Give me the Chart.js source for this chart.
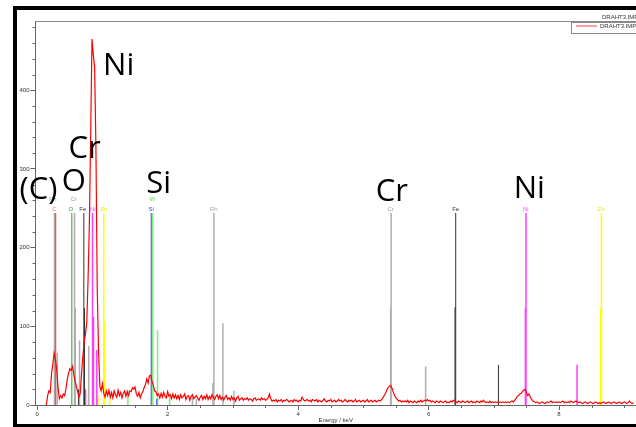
<!DOCTYPE html>
<html>
<head>
<meta charset="utf-8">
<title>DRAHT3.IMP</title>
<script src="https://cdn.jsdelivr.net/npm/chart.js@4.4.1/dist/chart.umd.min.js"></script>
<style>
  html, body { margin: 0; padding: 0; background: #fff; overflow: hidden; }
  #wrap { position: relative; width: 636px; height: 427px; }
  #spectrum { position: absolute; left: 0; top: 0; }
  #frame {
    position: absolute; left: 13px; top: 6px; width: 640px; height: 414px;
    border-top: 4px solid #000; border-left: 4px solid #000; border-bottom: 3px solid #000;
    pointer-events: none;
  }
</style>
</head>
<body>
<div id="wrap">
  <canvas id="spectrum" width="636" height="427"></canvas>
  <div id="frame"></div>
</div>
<script>
// EDX spectrum, channels every 20 eV starting at 0.14 keV
const energyStart = 0.14;
const energyStep = 0.02;
const counts = [
  0, 12, 18, 16, 40, 52, 66, 58, 44, 22, 8, 12, 9, 14, 12, 20, 32, 40, 46, 44, 49, 40, 31, 24, 17,
  10, 15, 40, 62, 80, 90, 105, 160, 230, 345, 465, 445, 430, 330, 150, 70, 24, 18, 27, 15, 10, 18, 12, 19, 10,
  16, 9, 18, 13, 10, 19, 12, 16, 9, 15, 18, 11, 17, 12, 18, 17, 22, 20, 23, 14, 11, 16, 9, 14, 17,
  22, 26, 33, 28, 37, 38, 30, 25, 18, 17, 12, 14, 9, 15, 10, 16, 11, 9, 17, 11, 13, 8, 14, 9, 13,
  8, 12, 7, 13, 9, 11, 14, 7, 11, 12, 6, 11, 13, 8, 10, 12, 9, 6, 10, 12, 7, 11, 8, 13, 7,
  11, 8, 13, 10, 7, 11, 13, 8, 12, 7, 10, 6, 10, 12, 7, 9, 6, 11, 7, 9, 5, 9, 11, 6, 8,
  9, 6, 8, 7, 9, 6, 8, 7, 5, 8, 9, 6, 7, 8, 6, 9, 7, 8, 6, 7, 9, 14, 8, 5, 6,
  5, 7, 4, 6, 5, 7, 4, 6, 5, 7, 6, 4, 5, 6, 4, 7, 5, 6, 4, 6, 5, 10, 7, 5, 6,
  7, 5, 6, 4, 7, 6, 5, 7, 4, 6, 5, 4, 6, 8, 5, 4, 6, 5, 7, 4, 5, 6, 4, 5, 7,
  5, 6, 4, 5, 7, 5, 4, 6, 5, 6, 4, 5, 7, 4, 5, 6, 4, 5, 6, 4, 5, 7, 4, 5, 6,
  4, 5, 6, 4, 5, 6, 5, 7, 9, 12, 15, 19, 22, 24, 25, 21, 16, 12, 9, 7, 5, 6, 4, 5, 4,
  5, 4, 6, 3, 5, 4, 3, 5, 4, 3, 5, 4, 6, 4, 5, 6, 5, 7, 5, 6, 4, 5, 4, 3, 5,
  4, 3, 5, 4, 3, 4, 5, 3, 4, 3, 5, 4, 6, 5, 4, 3, 5, 4, 3, 5, 4, 3, 4, 5, 3,
  4, 5, 3, 4, 3, 5, 4, 3, 5, 4, 6, 4, 3, 4, 3, 5, 3, 4, 3, 4, 3, 4, 3, 4, 3,
  4, 3, 4, 3, 4, 3, 4, 5, 4, 6, 8, 11, 12, 14, 15, 17, 19, 20, 16, 12, 14, 10, 7, 5, 4,
  3, 4, 3, 2, 3, 4, 3, 2, 3, 4, 3, 4, 5, 3, 4, 3, 4, 3, 4, 3, 4, 5, 3, 4, 3,
  4, 3, 5, 4, 3, 4, 5, 4, 3, 4, 3, 2, 3, 4, 3, 2, 3, 4, 3, 2, 3, 4, 3, 2, 3,
  2, 3, 4, 3, 2, 3, 4, 3, 2, 3, 4, 3, 2, 3, 4, 3, 2, 3, 4, 3, 2, 3, 5, 3, 2,
  3
];

// characteristic lines (keV) and their marker heights (counts)
const cEnergy = [0.281];
const cHeight = [244];
const oEnergy = [0.531];
const oHeight = [244];
const crEnergy = [0.572, 0.583, 0.649, 0.791, 5.419, 5.426, 5.955];
const crHeight = [244, 123, 82, 75, 124, 244, 49];
const feEnergy = [0.633, 0.715, 0.725, 6.405, 6.416, 7.071];
const feHeight = [20, 244, 123, 124, 244, 51];
const niEnergy = [0.741, 0.848, 0.863, 0.914, 7.485, 7.494, 8.276];
const niHeight = [20, 244, 112, 70, 124, 244, 51];
const znEnergy = [0.93, 1.021, 1.032, 1.113, 8.635, 8.65];
const znHeight = [12, 244, 106, 10, 124, 244];
const siEnergy = [1.748, 1.834];
const siHeight = [244, 8];
const wEnergy = [1.39, 1.773, 1.845, 2.03];
const wHeight = [19, 244, 95, 10];
const rhEnergy = [0.265, 0.308, 2.38, 2.44, 2.693, 2.709, 2.847, 3.015];
const rhHeight = [244, 66, 12, 8, 28, 244, 104, 18];

// element tags above the marker lines (row 1 = upper row)
const tagNames  = ['Rh', 'C', 'Cr', 'O', 'Fe', 'Ni', 'Zn', 'W', 'Si', 'Rh', 'Cr', 'Fe', 'Ni', 'Zn'];
const tagEnergy = [0.24, 0.265, 0.561, 0.515, 0.70, 0.853, 1.02, 1.764, 1.748, 2.705, 5.42, 6.415, 7.49, 8.645];
const tagRow    = [1, 0, 1, 0, 0, 0, 0, 1, 0, 0, 0, 0, 0, 0];
const tagLevels = [249, 261];

// peak annotations: text, energy of left edge, count at baseline
const noteText   = ['Ni', 'Cr', 'O', '(C)', 'Si', 'Cr', 'Ni'];
const noteEnergy = [1.01, 0.48, 0.378, -0.27, 1.672, 5.19, 7.305];
const noteCount  = [419, 314, 272, 262, 270, 259, 263];

const xMajorTicks = [0, 2, 4, 6, 8];
const yMajorTicks = [0, 100, 200, 300, 400];

const elementColors = {
  C: '#ff5050', O: '#2ca02c', Cr: 'rgba(140,140,140,0.7)', Fe: '#333333', Ni: '#ff3cff',
  Zn: '#ffff00', Si: '#3c3cdc', W: '#78f078', Rh: 'rgba(150,150,150,0.75)'
};
const tagColors = {
  C: '#ff6666', O: '#2ca02c', Cr: '#999999', Fe: '#333333', Ni: '#ff44ff',
  Zn: '#e6e600', Si: '#4444ee', W: '#55dd55', Rh: '#aaaaaa'
};

const spectrumPoints = counts.map((c, i) => ({ x: +(energyStart + i * energyStep).toFixed(2), y: c }));

// vertical stems from zero, separated by gaps
function stems(energies, heights) {
  const pts = [];
  energies.forEach((e, i) => {
    pts.push({ x: e, y: 0 }, { x: e, y: heights[i] }, { x: e, y: null });
  });
  return pts;
}

function markerSet(name, energies, heights, width) {
  return {
    label: name,
    data: stems(energies, heights),
    borderColor: elementColors[name],
    borderWidth: width || 1,
    pointRadius: 0,
    spanGaps: false,
    order: 1
  };
}

const decor = {
  id: 'decor',
  afterDatasetsDraw(chart) {
    const { ctx, scales: { x, y } } = chart;
    ctx.save();
    ctx.font = '6px "Liberation Sans", Arial, sans-serif';
    ctx.textAlign = 'center';
    ctx.textBaseline = 'middle';
    tagNames.forEach((t, i) => {
      ctx.fillStyle = tagColors[t];
      ctx.fillText(t, x.getPixelForValue(tagEnergy[i]), y.getPixelForValue(tagLevels[tagRow[i]]));
    });
    ctx.restore();
  },
  afterDraw(chart) {
    const { ctx, chartArea, scales: { x, y } } = chart;
    ctx.save();
    // top edge of the plot box
    ctx.strokeStyle = '#8a8a8a';
    ctx.lineWidth = 1;
    ctx.beginPath();
    ctx.moveTo(chartArea.left, chartArea.top + 0.5);
    ctx.lineTo(chartArea.right, chartArea.top + 0.5);
    ctx.stroke();

    // minor tick marks
    ctx.strokeStyle = '#666';
    ctx.beginPath();
    for (let v = 0.5; v <= 9; v += 0.5) {
      if (v % 2 === 0) continue;
      const px = Math.round(x.getPixelForValue(v)) + 0.5;
      ctx.moveTo(px, chartArea.bottom);
      ctx.lineTo(px, chartArea.bottom + 3);
    }
    for (let v = 20; v < 488; v += 20) {
      if (v % 100 === 0) continue;
      const py = Math.round(y.getPixelForValue(v)) + 0.5;
      ctx.moveTo(chartArea.left - 3, py);
      ctx.lineTo(chartArea.left, py);
    }
    ctx.stroke();

    // legend box
    const lx = chartArea.right - 65, ly = chartArea.top + 1;
    ctx.fillStyle = '#fff';
    ctx.fillRect(lx, ly, 80, 11);
    ctx.strokeStyle = '#888';
    ctx.strokeRect(lx + 0.5, ly + 0.5, 80, 11);
    ctx.strokeStyle = '#ff9c9c';
    ctx.lineWidth = 2;
    ctx.beginPath();
    ctx.moveTo(lx + 5, ly + 4);
    ctx.lineTo(lx + 26, ly + 4);
    ctx.stroke();
    ctx.font = '6px "Liberation Sans", Arial, sans-serif';
    ctx.fillStyle = '#333';
    ctx.textAlign = 'left';
    ctx.textBaseline = 'middle';
    ctx.fillText('DRAHT3.IMP', lx + 29, ly + 4);
    ctx.fillText('DRAHT3.IMP', lx + 31, chartArea.top - 4);

    // peak annotations
    ctx.font = '31px "Open Sans", sans-serif';
    ctx.fillStyle = '#000';
    ctx.textBaseline = 'alphabetic';
    noteText.forEach((t, i) => {
      ctx.fillText(t, x.getPixelForValue(noteEnergy[i]), y.getPixelForValue(noteCount[i]));
    });
    ctx.restore();
  }
};

const axisFont = { family: '"Liberation Sans", Arial, sans-serif', size: 6 };

new Chart(document.getElementById('spectrum'), {
  type: 'line',
  data: {
    datasets: [
      {
        label: 'DRAHT3.IMP',
        data: spectrumPoints,
        borderColor: '#ff0000',
        borderWidth: 1.2,
        pointRadius: 0,
        tension: 0,
        order: 0
      },
      markerSet('Rh', rhEnergy, rhHeight, 1.5),
      markerSet('C', cEnergy, cHeight, 1.5),
      markerSet('O', oEnergy, oHeight),
      markerSet('Cr', crEnergy, crHeight, 1.5),
      markerSet('Fe', feEnergy, feHeight),
      markerSet('Ni', niEnergy, niHeight, 1.5),
      markerSet('Zn', znEnergy, znHeight, 1.5),
      markerSet('Si', siEnergy, siHeight),
      markerSet('W', wEnergy, wHeight, 1.5)
    ]
  },
  options: {
    responsive: false,
    animation: false,
    devicePixelRatio: 1,
    layout: { padding: { top: 21, right: 0, left: 0, bottom: 0 } },
    plugins: {
      legend: { display: false },
      tooltip: { enabled: false }
    },
    scales: {
      x: {
        type: 'linear',
        min: -0.026,
        max: 9.18,
        afterBuildTicks: s => { s.ticks = xMajorTicks.map(v => ({ value: v })); },
        afterFit: s => { s.height = 22; },
        grid: { drawOnChartArea: false, tickLength: 5, tickColor: '#666' },
        border: { color: '#666' },
        ticks: { font: axisFont, color: '#333', padding: 1, maxRotation: 0, autoSkip: false },
        title: { display: true, text: 'Energy / keV', font: axisFont, color: '#333', padding: { top: 0, bottom: 3 } }
      },
      y: {
        min: 0,
        max: 488,
        afterBuildTicks: s => { s.ticks = yMajorTicks.map(v => ({ value: v })); },
        afterFit: s => { s.width = 35.5; },
        grid: { drawOnChartArea: false, tickLength: 5, tickColor: '#666' },
        border: { color: '#666' },
        ticks: { font: axisFont, color: '#333', padding: 1 }
      }
    }
  },
  plugins: [decor]
});
</script>
</body>
</html>
